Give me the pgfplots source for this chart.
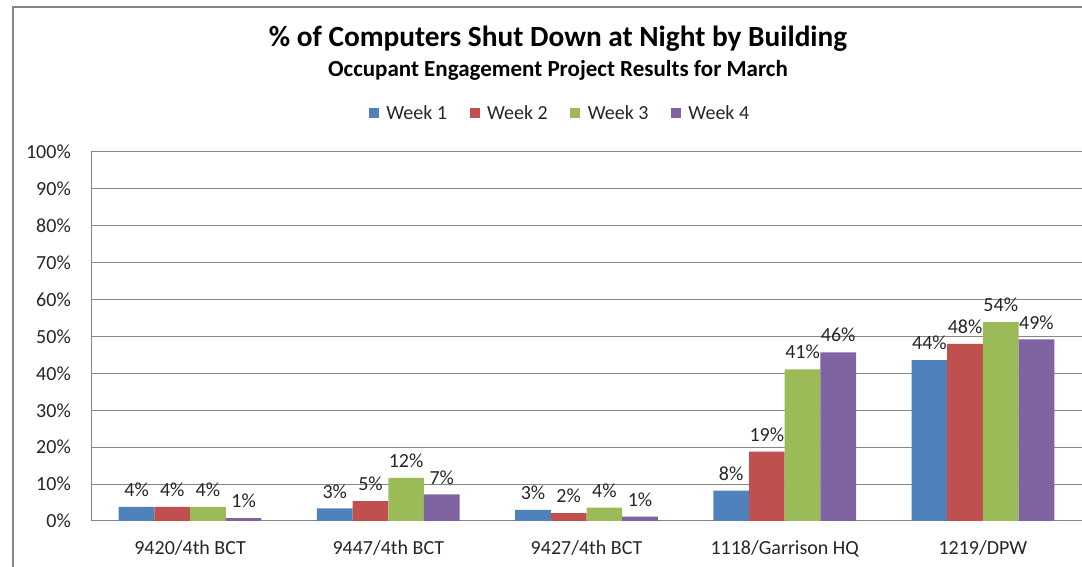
\documentclass[border=0pt]{standalone}
\usepackage{pgfplots}
\pgfplotsset{compat=1.18}
\usepackage{fontspec}
\setmainfont{Carlito}
\definecolor{wkA}{HTML}{4F81BD}
\definecolor{wkB}{HTML}{C0504D}
\definecolor{wkC}{HTML}{9BBB59}
\definecolor{wkD}{HTML}{8064A2}
\definecolor{gridgray}{HTML}{868686}
\definecolor{bordergray}{HTML}{868686}
\begin{document}
\begin{tikzpicture}[x=1bp,y=1bp]
\useasboundingbox (0,0) rectangle (1082,567);
\draw[line width=1.5bp, color=bordergray] (13,-5) -- (13,560) -- (1090,560);
\node[font=\bfseries\fontsize{29.3bp}{34bp}\selectfont] at (558,528) {\% of Computers Shut Down at Night by Building};
\node[font=\bfseries\fontsize{23bp}{27bp}\selectfont] at (558,497) {Occupant Engagement Project Results for March};
\begin{axis}[
 at={(91bp,46bp)}, anchor=south west,
 width=991bp, height=369bp, scale only axis,
 xmin=-0.5, xmax=4.5, ymin=0, ymax=100,
 ybar=0pt, bar width=0.18,
 xtick={0,1,2,3,4},
 xticklabels={9420/4th BCT, 9447/4th BCT, 9427/4th BCT, 1118/Garrison HQ, 1219/DPW},
 ytick={0,10,20,30,40,50,60,70,80,90,100},
 yticklabels={0\%,10\%,20\%,30\%,40\%,50\%,60\%,70\%,80\%,90\%,100\%},
 ymajorgrids, grid style={gridgray, line width=1bp},
 axis x line*=bottom, axis y line*=left,
 axis line style={gridgray, line width=1bp},
 major tick length=0pt,
 /pgf/number format/assume math mode=true,
 tick label style={font=\fontsize{20bp}{24bp}\selectfont, text=black!85},
 yticklabel style={anchor=east, inner sep=0pt, xshift=-20bp},
 xticklabel style={anchor=north, inner sep=0pt, yshift=-19bp},
 nodes near coords={\pgfmathprintnumber[fixed,precision=0]{\pgfplotspointmeta}\%},
 every node near coord/.append style={font=\fontsize{20bp}{24bp}\selectfont, text=black!85, inner sep=0pt, yshift=10bp},
 legend columns=4,
 legend style={at={(0.473,1.106)}, anchor=center, draw=none, fill=none,
   font=\fontsize{20bp}{24bp}\selectfont, text=black!85,
   /tikz/every odd column/.append style={column sep=6bp},
   /tikz/every even column/.append style={column sep=21bp},
   nodes={inner sep=1.5bp}},
 legend image code/.code={\fill[#1] (0bp,-5bp) rectangle (10bp,5bp);},
 clip=false,
]
\addplot[fill=wkA, draw=none] coordinates {(0,3.8) (1,3.4) (2,3.0) (3,8.2) (4,43.6)};
\addplot[fill=wkB, draw=none] coordinates {(0,3.8) (1,5.4) (2,2.1) (3,18.8) (4,48.0)};
\addplot[fill=wkC, draw=none] coordinates {(0,3.8) (1,11.7) (2,3.6) (3,41.1) (4,53.9)};
\addplot[fill=wkD, draw=none] coordinates {(0,0.8) (1,7.2) (2,1.2) (3,45.7) (4,49.2)};
\legend{Week 1, Week 2, Week 3, Week 4}
\end{axis}
\end{tikzpicture}
\end{document}
